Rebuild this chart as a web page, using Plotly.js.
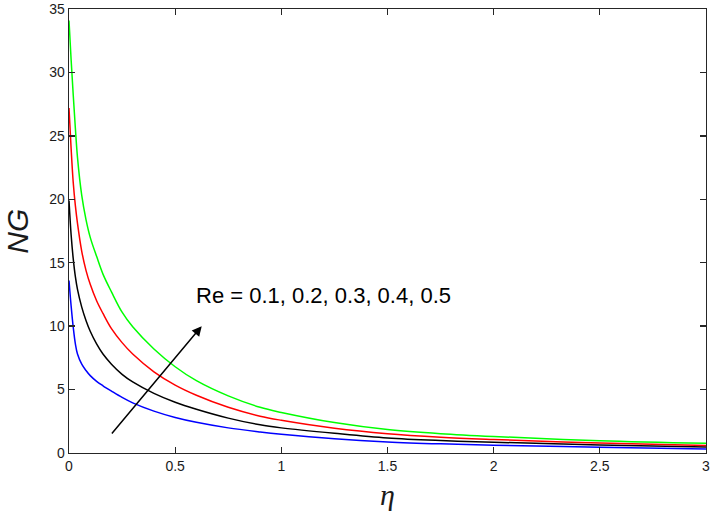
<!DOCTYPE html>
<html>
<head>
<meta charset="utf-8">
<script src="https://cdn.plot.ly/plotly-3.0.1.min.js"></script>
<style>html,body{margin:0;padding:0;background:#fff;}#chart{width:710px;height:511px;}</style>
</head>
<body>
<div id="chart"></div>
<script>
// common eta grid
const eta = [0, 0.01, 0.02, 0.03, 0.04, 0.06, 0.08, 0.1, 0.13, 0.16, 0.2, 0.25, 0.3, 0.4, 0.5, 0.6, 0.75, 0.9, 1.0, 1.25, 1.5, 1.75, 2.0, 2.5, 3.0];
// Re = 0.1 (blue)
const ngBlue  = [13.6, 11.6, 9.9, 8.6, 7.8, 7.0, 6.5, 6.1, 5.65, 5.3, 4.88, 4.38, 3.95, 3.3, 2.8, 2.42, 1.98, 1.66, 1.48, 1.12, 0.87, 0.72, 0.62, 0.46, 0.32];
// Re = 0.2 (black)
const ngBlack = [19.9, 17.2, 15.3, 13.9, 12.9, 11.5, 10.45, 9.6, 8.6, 7.8, 7.0, 6.2, 5.6, 4.7, 4.0, 3.45, 2.75, 2.22, 1.98, 1.55, 1.18, 0.98, 0.85, 0.64, 0.48];
// Re = 0.3 (red)
const ngRed   = [27.2, 24.0, 21.3, 19.5, 18.1, 15.9, 14.4, 13.3, 12.0, 11.0, 9.8, 8.7, 7.8, 6.4, 5.35, 4.55, 3.6, 2.9, 2.58, 1.95, 1.52, 1.25, 1.07, 0.78, 0.6];
// Re = 0.4 (green)
const ngGreen = [34.1, 31.0, 28.2, 25.6, 23.3, 20.3, 18.4, 17.0, 15.5, 14.1, 12.7, 11.1, 9.95, 8.2, 6.8, 5.7, 4.5, 3.6, 3.2, 2.4, 1.85, 1.52, 1.3, 0.97, 0.76];

const xTicks = [0, 0.5, 1, 1.5, 2, 2.5, 3];
const xTickText = ['0', '0.5', '1', '1.5', '2', '2.5', '3'];
const yTicks = [0, 5, 10, 15, 20, 25, 30, 35];
const xTitle = 'η';
const yTitle = 'NG';
const annText = 'Re = 0.1, 0.2, 0.3, 0.4, 0.5';
const arrowTail = [0.196, 1.42];
const arrowHead = [0.625, 10.0];

const series = [
  {y: ngBlue, color: '#0000ff', name: 'Re = 0.1'},
  {y: ngBlack, color: '#000000', name: 'Re = 0.2'},
  {y: ngRed, color: '#ff0000', name: 'Re = 0.3'},
  {y: ngGreen, color: '#00ff00', name: 'Re = 0.4'}
];

const traces = series.map(s => ({
  x: eta, y: s.y, name: s.name, type: 'scatter', mode: 'lines',
  line: {color: s.color, width: 1.5, shape: 'spline', smoothing: 1}
}));

const axisCommon = {
  showgrid: false, zeroline: false, showline: true, linecolor: '#262626', linewidth: 1.3,
  mirror: 'ticks', ticks: 'inside', ticklen: 6, tickcolor: '#262626', tickwidth: 1.3,
  ticklabeloverflow: 'allow',
  tickfont: {family: 'Liberation Sans, Arial, sans-serif', size: 14, color: '#1a1a1a'}
};

const layout = {
  width: 710, height: 511,
  margin: {l: 69, r: 4, t: 9, b: 58},
  paper_bgcolor: '#ffffff', plot_bgcolor: '#ffffff',
  showlegend: false,
  xaxis: Object.assign({}, axisCommon, {range: [0, 3], tickvals: xTicks, ticktext: xTickText}),
  yaxis: Object.assign({}, axisCommon, {range: [0, 35], tickvals: yTicks}),
  annotations: [
    {x: arrowHead[0], y: arrowHead[1], ax: arrowTail[0], ay: arrowTail[1], xref: 'x', yref: 'y', axref: 'x', ayref: 'y',
     showarrow: true, arrowhead: 2, arrowsize: 1.3, arrowwidth: 1.5, arrowcolor: '#000000', text: ''},
    {x: 0.588, y: 12.4, xref: 'x', yref: 'y', xanchor: 'left', yanchor: 'middle', showarrow: false,
     text: annText, font: {family: 'Liberation Sans, Arial, sans-serif', size: 22, color: '#000000'}},
    {x: -0.082, y: 0.5, xref: 'paper', yref: 'paper', xanchor: 'center', yanchor: 'middle', showarrow: false,
     textangle: -90, text: '<i>' + yTitle + '</i>',
     font: {family: 'Liberation Sans, Arial, sans-serif', size: 30, color: '#1a1a1a'}},
    {x: 0.5, y: -0.094, xref: 'paper', yref: 'paper', xanchor: 'center', yanchor: 'middle', showarrow: false,
     text: '<i>' + xTitle + '</i>',
     font: {family: 'Liberation Serif, Times New Roman, serif', size: 30, color: '#1a1a1a'}}
  ]
};

Plotly.newPlot('chart', traces, layout, {displayModeBar: false, staticPlot: true});
</script>
</body>
</html>
